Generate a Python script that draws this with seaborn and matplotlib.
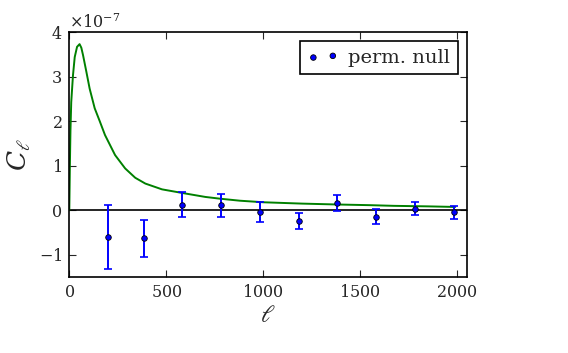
import matplotlib
matplotlib.use("Agg")
import matplotlib.pyplot as plt
import seaborn as sns
import pandas as pd

# binned permutation-null points (C_ell in units of 1e-7)
ell_bins = [198, 387, 583, 783, 984, 1182, 1382, 1583, 1785, 1984]
null_vals = [-0.60, -0.63, 0.13, 0.11, -0.045, -0.23, 0.16, -0.14, 0.04, -0.045]
null_errs = [0.71, 0.41, 0.28, 0.25, 0.22, 0.18, 0.18, 0.16, 0.15, 0.145]

# theory curve
ell_curve = [0, 3, 6, 10, 19, 28, 40, 53, 62, 71, 88, 105, 131, 157, 184,
             236, 288, 340, 392, 478, 581, 701, 778, 880, 1002, 1200, 1382,
             1550, 1673, 1850, 1990]
cl_curve = [0.0, 1.0, 1.8, 2.43, 3.03, 3.44, 3.67, 3.73, 3.65, 3.48, 3.11,
            2.73, 2.29, 2.0, 1.69, 1.24, 0.94, 0.73, 0.60, 0.47, 0.39, 0.30,
            0.26, 0.215, 0.18, 0.15, 0.13, 0.115, 0.10, 0.088, 0.075]

scale = 1e-7


def make_plot():
    sns.set_style("ticks")
    plt.rcParams["font.family"] = ["DejaVu Serif"]
    plt.rcParams["mathtext.fontset"] = "dejavuserif"
    plt.rcParams["axes.formatter.use_mathtext"] = True
    plt.rcParams["xtick.direction"] = "in"
    plt.rcParams["ytick.direction"] = "in"

    fig = plt.figure(figsize=(5.68, 3.53), dpi=100)
    ax = fig.add_axes([0.122, 0.215, 0.700, 0.694])

    curve = pd.DataFrame({"ell": ell_curve,
                          "cl": [v * scale for v in cl_curve]})
    pts = pd.DataFrame({"ell": ell_bins,
                        "cl": [v * scale for v in null_vals],
                        "err": [v * scale for v in null_errs]})

    ax.axhline(0, color="k", lw=1.2, zorder=1)
    sns.lineplot(data=curve, x="ell", y="cl", color="g", lw=1.4, ax=ax,
                 zorder=2)
    ax.errorbar(pts["ell"], pts["cl"], yerr=pts["err"], fmt="none",
                ecolor="b", elinewidth=1.4, capsize=2.8, capthick=1.2,
                zorder=3)
    sns.scatterplot(data=pts, x="ell", y="cl", color="b", edgecolor="k",
                    linewidth=0.6, s=16, label="perm. null", ax=ax,
                    zorder=4)

    ax.set_xlim(0, 2050)
    ax.set_ylim(-1.5 * scale, 4 * scale)
    ax.set_xticks([0, 500, 1000, 1500, 2000])
    ax.set_yticks([v * scale for v in [-1, 0, 1, 2, 3, 4]])
    ax.tick_params(top=True, right=True, labelsize=11.5, length=5,
                   width=0.8, pad=5)
    ax.yaxis.get_offset_text().set_fontsize(11.5)
    for s in ax.spines.values():
        s.set_linewidth(1.2)
        s.set_color("k")

    ax.set_xlabel(r"$\ell$", fontsize=17, labelpad=2)
    ax.set_ylabel(r"$C_\ell$", fontsize=19, labelpad=4)

    leg = ax.legend(loc="upper right", scatterpoints=2, fontsize=14,
                    fancybox=False, framealpha=1, borderpad=0.4,
                    handletextpad=0.5, borderaxespad=0.45, handlelength=1.6)
    leg.get_frame().set_edgecolor("k")
    leg.get_frame().set_linewidth(1.2)

    fig.savefig("out.png", dpi=100)


def main():
    make_plot()


if __name__ == "__main__":
    main()
